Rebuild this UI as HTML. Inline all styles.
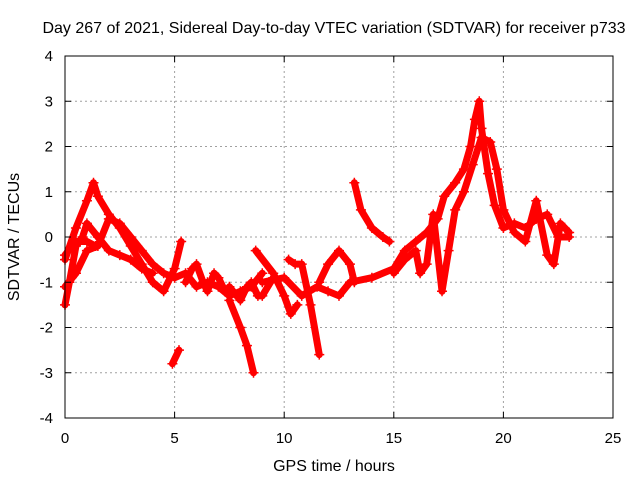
<!DOCTYPE html>
<html><head><meta charset="utf-8"><style>
html,body{margin:0;padding:0;background:#fff;}
svg text{font-family:"Liberation Sans",sans-serif;fill:#000;}
</style></head><body>
<svg id="chart" width="640" height="480" xmlns="http://www.w3.org/2000/svg">
<rect width="640" height="480" fill="#fff"/>
<text x="334" y="33" font-size="16" text-anchor="middle">Day 267 of 2021, Sidereal Day-to-day VTEC variation (SDTVAR) for receiver p733</text>
<g id="grid"></g>
<g id="series"></g>
<rect x="65" y="56" width="548" height="362" fill="none" stroke="#000" stroke-width="1"/>
<g id="ticks"></g>
<text x="334" y="471" font-size="16" text-anchor="middle">GPS time / hours</text>
<text x="19" y="237" font-size="16" text-anchor="middle" transform="rotate(-90 19 237)">SDTVAR / TECUs</text>
</svg>
<script>
const xTicks=[0,5,10,15,20,25];
const yTicks=[-4,-3,-2,-1,0,1,2,3,4];
const trackA=[[0,-0.5],[0.5,0.2],[1,0.8],[1.3,1.2],[1.5,0.9],[2,0.5],[2.5,0.2],[3,-0.2],[3.5,-0.6],[4,-1.0],[4.5,-1.2],[5,-0.7],[5.3,-0.1]];
const trackB=[[0,-1.1],[0.5,-0.8],[1,-0.3],[1.5,-0.2],[2,0.4],[2.5,0.3],[3,0.0],[3.5,-0.3],[4,-0.6],[4.5,-0.8],[5,-0.9],[5.5,-0.8],[6,-1.1],[6.5,-1.0],[7,-1.1],[7.5,-1.3],[8,-1.2],[8.5,-1.1],[9,-0.8]];
const trackC=[[0,-1.5],[0.2,-1.0],[0.5,-0.2],[0.8,0.0],[1,0.3],[1.5,0.0],[2,-0.3],[2.5,-0.4],[3,-0.5],[3.5,-0.7],[4,-0.8]];
const trackD=[[0,-0.4],[0.5,-0.1],[1,-0.1],[1.4,-0.2]];
const trackE=[[4.9,-2.8],[5.2,-2.5]];
const trackF=[[5.5,-1.0],[5.8,-0.7],[6,-0.6],[6.3,-1.0],[6.5,-1.2],[6.8,-0.8],[7,-0.9],[7.3,-1.2],[7.5,-1.1],[8,-1.4],[8.3,-1.1],[8.5,-1.0],[8.8,-1.3],[9,-1.3],[9.5,-0.9]];
const trackG=[[7.5,-1.4],[8,-2.0],[8.3,-2.4],[8.6,-3.0]];
const trackH=[[8.7,-0.3],[9.5,-0.8],[10,-1.3],[10.3,-1.7],[10.6,-1.5]];
const trackI=[[9,-1.0],[10,-0.9],[10.8,-1.3],[11.5,-1.1],[12,-1.2],[12.5,-1.3],[13,-1.0],[14,-0.9],[15,-0.7],[15.5,-0.3],[16,-0.1],[16.5,0.1],[17,0.4],[17.3,0.9],[17.8,1.2],[18.2,1.5],[18.5,2.0],[18.7,2.6],[18.9,3.0],[19,2.4],[19.3,1.4],[19.6,0.7],[20,0.2],[20.5,0.3],[21,0.2],[21.5,0.4],[22,0.5],[22.5,0.0],[23,0.0]];
const trackJ=[[10.2,-0.5],[10.5,-0.6],[10.8,-0.6],[11.2,-1.5],[11.6,-2.6]];
const trackK=[[11.6,-1.0],[12,-0.6],[12.5,-0.3],[13,-0.6],[13.2,-1.0]];
const trackL=[[13.2,1.2],[13.5,0.6],[14,0.2],[14.5,0.0],[14.8,-0.1]];
const trackM=[[15,-0.8],[15.5,-0.5],[16,-0.3],[16.2,-0.8],[16.5,-0.6],[16.8,0.5],[17.2,-1.2],[17.5,-0.3],[17.8,0.6],[18.2,1.0],[18.6,1.6],[19,2.2],[19.4,2.1],[19.7,1.5],[20,0.6],[20.5,0.1],[21,-0.1],[21.5,0.8],[22,-0.4],[22.3,-0.6],[22.6,0.3],[23,0.1]];
const tracks=[trackA,trackB,trackC,trackD,trackE,trackF,trackG,trackH,trackI,trackJ,trackK,trackL,trackM];
const X0=65,X1=613,Y0=418,Y1=56;
function xs(v){return X0+(v-0)/(25-0)*(X1-X0);}
function ys(v){return Y0-(v+4)/8*(Y0-Y1);}
const NS='http://www.w3.org/2000/svg';
const grid=document.getElementById('grid'),ticks=document.getElementById('ticks'),ser=document.getElementById('series');
function mk(t,a,p){const e=document.createElementNS(NS,t);for(const k in a)e.setAttribute(k,a[k]);p.appendChild(e);return e;}
xTicks.forEach(v=>{const x=xs(v);
 if(v>0&&v<25){const g=mk('line',{x1:x,y1:Y0,x2:x,y2:Y1,stroke:'#a0a0a0','stroke-dasharray':'2,3'},grid);
 
 }
 mk('line',{x1:x,y1:Y0,x2:x,y2:Y0-6,stroke:'#000'},ticks);
 mk('line',{x1:x,y1:Y1,x2:x,y2:Y1+6,stroke:'#000'},ticks);
 const t=mk('text',{x:x,y:Y0+25,'font-size':15,'text-anchor':'middle'},ticks);t.textContent=v;
 
 });
yTicks.forEach(v=>{const y=ys(v);
 if(v>-4&&v<4){const g=mk('line',{x1:X0,y1:y,x2:X1,y2:y,stroke:'#a0a0a0','stroke-dasharray':'2,3'},grid);
 
 }
 mk('line',{x1:X0,y1:y,x2:X0+6,y2:y,stroke:'#000'},ticks);
 mk('line',{x1:X1,y1:y,x2:X1-6,y2:y,stroke:'#000'},ticks);
 const t=mk('text',{x:53,y:y+5,'font-size':15,'text-anchor':'end'},ticks);t.textContent=v;
 
 });
tracks.forEach((tr,i)=>{
 const pts=tr.map(p=>xs(p[0])+','+ys(p[1])).join(' ');
 const pl=mk('polyline',{points:pts,fill:'none',stroke:'#ff0000','stroke-width':7,'stroke-linejoin':'round','stroke-linecap':'round'},ser);
 
 
 tr.forEach(p=>{const x=xs(p[0]),y=ys(p[1]);
  const m=mk('path',{d:`M${x-5},${y}H${x+5}M${x},${y-5}V${y+5}`,stroke:'#ff0000','stroke-width':1.5},ser);
  
  });
});
</script>
</body></html>
